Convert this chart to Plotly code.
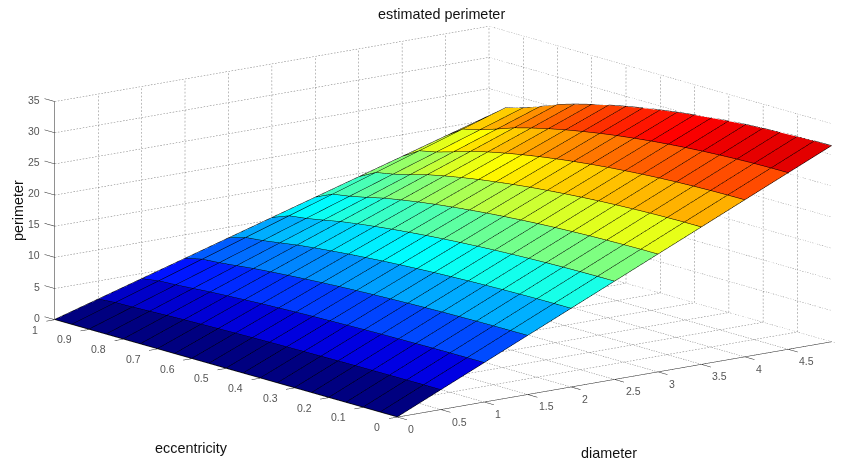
import plotly.graph_objects as go

diameter = [0, 0.5, 1, 1.5, 2, 2.5, 3, 3.5, 4, 4.5, 5]
eccentricity = [0, .05, .1, .15, .2, .25, .3, .35, .4, .45, .5, .55, .6, .65, .7, .75, .8, .85, .9, .95, 1]
# perimeter[row per diameter][column per eccentricity]
perimeter = [
    [0]*21,
    [3.14, 3.14, 3.13, 3.12, 3.11, 3.09, 3.07, 3.04, 3.01, 2.98, 2.94, 2.89, 2.84, 2.78, 2.71, 2.64, 2.55, 2.44, 2.34, 2.27, 2.06],
    [6.28, 6.28, 6.27, 6.25, 6.22, 6.18, 6.14, 6.09, 6.02, 5.95, 5.87, 5.78, 5.67, 5.56, 5.42, 5.27, 5.11, 4.89, 4.69, 4.54, 4.12],
    [9.43, 9.42, 9.40, 9.37, 9.33, 9.28, 9.21, 9.13, 9.04, 8.93, 8.81, 8.67, 8.51, 8.33, 8.13, 7.91, 7.66, 7.33, 7.03, 6.81, 6.18],
    [12.57, 12.56, 12.54, 12.50, 12.44, 12.37, 12.28, 12.17, 12.05, 11.90, 11.74, 11.56, 11.34, 11.11, 10.84, 10.55, 10.21, 9.78, 9.37, 9.08, 8.24],
    [15.71, 15.70, 15.67, 15.62, 15.55, 15.46, 15.35, 15.22, 15.06, 14.88, 14.68, 14.45, 14.18, 13.89, 13.56, 13.19, 12.77, 12.22, 11.72, 11.35, 10.30],
    [18.85, 18.84, 18.80, 18.74, 18.66, 18.55, 18.42, 18.26, 18.07, 17.86, 17.61, 17.33, 17.02, 16.67, 16.27, 15.82, 15.32, 14.66, 14.06, 13.62, 12.36],
    [21.99, 21.98, 21.94, 21.87, 21.77, 21.64, 21.49, 21.30, 21.08, 20.83, 20.55, 20.22, 19.85, 19.45, 18.98, 18.46, 17.87, 17.11, 16.40, 15.89, 14.42],
    [25.14, 25.12, 25.07, 24.99, 24.88, 24.74, 24.56, 24.34, 24.10, 23.81, 23.48, 23.11, 22.69, 22.22, 21.69, 21.10, 20.42, 19.55, 18.74, 18.16, 16.48],
    [28.28, 28.26, 28.21, 28.12, 27.99, 27.83, 27.63, 27.39, 27.11, 26.78, 26.42, 26.00, 25.52, 25.00, 24.40, 23.73, 22.98, 22.00, 21.09, 20.43, 18.54],
    [31.42, 31.40, 31.34, 31.24, 31.10, 30.92, 30.70, 30.43, 30.12, 29.76, 29.35, 28.89, 28.36, 27.78, 27.11, 26.37, 25.53, 24.44, 23.43, 22.70, 20.60],
]
x_ticks = [0, .5, 1, 1.5, 2, 2.5, 3, 3.5, 4, 4.5]
y_ticks = [0, .1, .2, .3, .4, .5, .6, .7, .8, .9, 1]
z_ticks = [0, 5, 10, 15, 20, 25, 30, 35]
x_max, y_max, z_max = 5, 1, 35

JET = [[0, "#000080"], [0.125, "#0000ff"], [0.375, "#00ffff"], [0.625, "#ffff00"], [0.875, "#ff0000"], [1, "#800000"]]

nx, ny = len(diameter), len(eccentricity)
vx, vy, vz, I, J, K, C = [], [], [], [], [], [], []
for a in range(nx):
    for b in range(ny):
        vx.append(diameter[a]); vy.append(eccentricity[b]); vz.append(perimeter[a][b])
for a in range(nx - 1):
    for b in range(ny - 1):
        p = a * ny + b
        I += [p, p]; J += [p + 1, p + ny + 1]; K += [p + ny + 1, p + ny]
        C += [perimeter[a][b]] * 2

fig = go.Figure()
fig.add_trace(go.Mesh3d(x=vx, y=vy, z=vz, i=I, j=J, k=K, intensity=C, intensitymode="cell",
                        colorscale=JET, cmin=0, cmax=31.42, showscale=False, flatshading=True,
                        lighting=dict(ambient=1, diffuse=0, specular=0, fresnel=0, roughness=1),
                        hoverinfo="skip"))

# black mesh lines, lifted a hair above the faces so that they stay visible
LIFT = 0.06
lx, ly, lz = [], [], []
for a in range(nx):
    lx += [diameter[a]] * ny + [None]; ly += eccentricity + [None]; lz += [v + LIFT for v in perimeter[a]] + [None]
for b in range(ny):
    lx += diameter + [None]; ly += [eccentricity[b]] * nx + [None]; lz += [r[b] + LIFT for r in perimeter] + [None]
fig.add_trace(go.Scatter3d(x=lx, y=ly, z=lz, mode="lines", line=dict(color="#000000", width=1), hoverinfo="skip"))

# dotted grid on the three back walls, cut into short pieces
gx, gy, gz = [], [], []
def seg(a, b, n):
    for s in range(n):
        t0, t1 = s / n, (s + 0.5) / n
        for c, out in zip(range(3), (gx, gy, gz)):
            out.extend([a[c] + (b[c] - a[c]) * t0, a[c] + (b[c] - a[c]) * t1, None])
NX, NY, NZ = 140, 140, 60
for t in x_ticks[1:] + [x_max]:
    seg((t, 0, 0), (t, y_max, 0), NY); seg((t, y_max, 0), (t, y_max, z_max), NZ)
for t in y_ticks[1:]:
    seg((0, t, 0), (x_max, t, 0), NX); seg((x_max, t, 0), (x_max, t, z_max), NZ)
for t in z_ticks[1:]:
    seg((0, y_max, t), (x_max, y_max, t), NX); seg((x_max, y_max, t), (x_max, 0, t), NY)
fig.add_trace(go.Scatter3d(x=gx, y=gy, z=gz, mode="lines", line=dict(color="#777777", width=1), hoverinfo="skip"))

# solid axis lines and tick marks
ax, ay, az = [], [], []
def solid(a, b):
    ax.extend([a[0], b[0], None]); ay.extend([a[1], b[1], None]); az.extend([a[2], b[2], None])
solid((0, 0, 0), (x_max, 0, 0)); solid((0, 0, 0), (0, y_max, 0)); solid((0, y_max, 0), (0, y_max, z_max))
TICK_X, TICK_Y, TICK_Z = 0.10, 0.028, 0.03
for t in x_ticks:
    solid((t, 0, 0), (t, -TICK_Y, 0))
solid((x_max, 0, 0), (x_max, -TICK_Y, 0))
for t in y_ticks:
    solid((0, t, 0), (-TICK_X, t, 0))
for t in z_ticks:
    solid((0, y_max, t), (0, y_max + TICK_Z, t))
fig.add_trace(go.Scatter3d(x=ax, y=ay, z=az, mode="lines", line=dict(color="#222222", width=1), hoverinfo="skip"))

def axis(ticks, rng):
    return dict(range=rng, tickmode="array", tickvals=ticks, title=dict(text=""), showticklabels=False,
                showgrid=False, zeroline=False, showbackground=False, showspikes=False, showline=False, ticks="")

# tick labels as real text tied to the data position of each tick
tick_font = dict(family="Liberation Sans", size=10.5, color="#555555")
def tick(x, y, z, t, xanchor, dx, dy):
    return dict(x=x, y=y, z=z, text=f"{t:g}", showarrow=False, xanchor=xanchor, yanchor="middle",
                xshift=dx, yshift=-dy, font=tick_font)
scene_labels = (
    [tick(t, 0, 0, t, "left", 9, 12) for t in x_ticks]
    + [tick(0, t, 0, t, "right", -15, 10) for t in y_ticks]
    + [tick(0, y_max, t, t, "right", -13, -2) for t in z_ticks]
)

text_font = dict(family="Liberation Sans", size=14.4, color="#111111")
# the page body has an 8 px margin, so paper positions are 8 px less than page positions
def label(text, px, py, **kw):
    return dict(text=text, x=(px - 8) / 843, y=1 - (py - 8) / 465, xref="paper", yref="paper", xanchor="center", yanchor="middle",
                showarrow=False, font=text_font, **kw)

R = 5.0
CZ = -0.0802
CX, CY = -0.0306, 0.0239
S = 2.37
fig.update_layout(
    width=843, height=465, margin=dict(l=0, r=0, t=0, b=0), paper_bgcolor="white", showlegend=False,
    scene=dict(
        xaxis=axis(x_ticks, [-TICK_X, x_max]), yaxis=axis(y_ticks, [-TICK_Y, y_max + TICK_Z]), zaxis=axis(z_ticks, [0, z_max]),
        aspectmode="manual", aspectratio=dict(x=S * (x_max + TICK_X) / x_max, y=1.01 * S * (y_max + TICK_Y + TICK_Z) / y_max, z=0.406 * S),
        camera=dict(projection=dict(type="orthographic"), up=dict(x=0, y=0, z=1),
                    center=dict(x=CX, y=CY, z=CZ), eye=dict(x=-0.6 * R + CX, y=-0.768 * R + CY, z=0.222 * R + CZ)),
        domain=dict(x=[0, 1], y=[0, 1]),
        annotations=scene_labels,
    ),
    annotations=[
        label("estimated perimeter", 441, 14),
        label("perimeter", 18, 211, textangle=-90),
        label("eccentricity", 191, 448),
        label("diameter", 609, 453),
    ],
)
fig.write_html("out.html")
